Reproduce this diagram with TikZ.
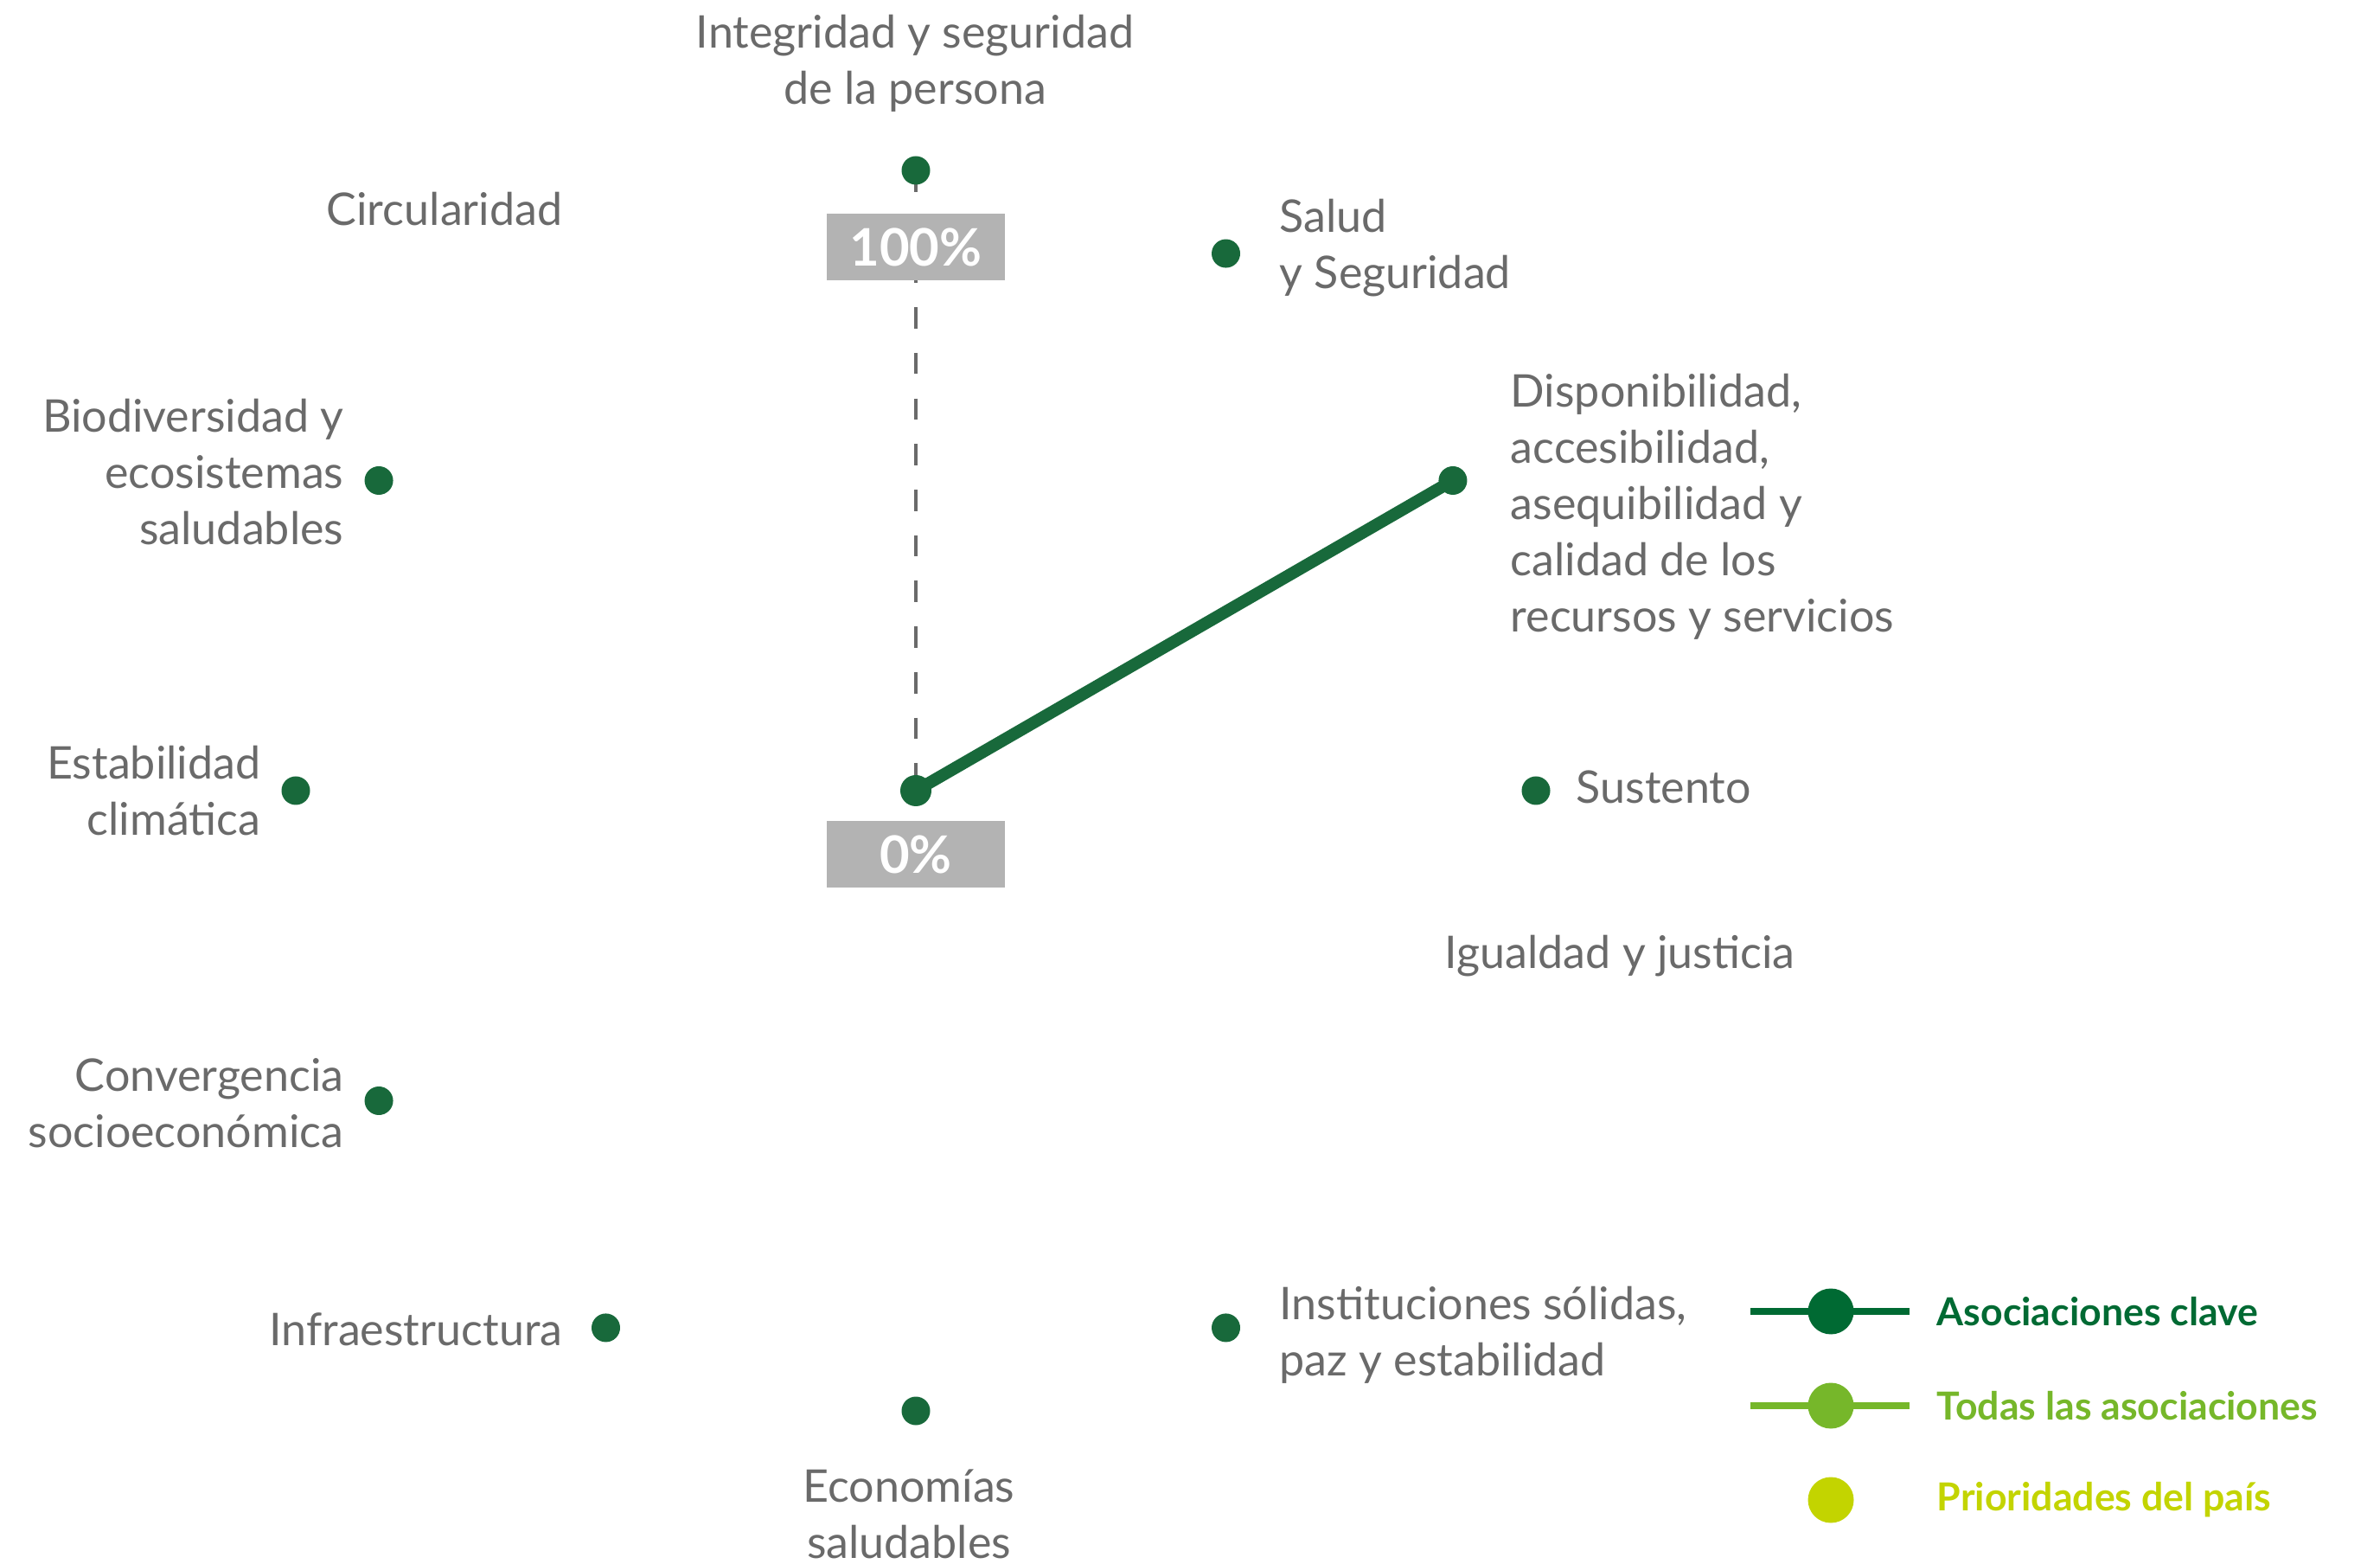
\documentclass[tikz,border=0pt]{standalone}
\usepackage{fontspec}
\setmainfont{Lato}
\usetikzlibrary{positioning, calc}
\definecolor{colDot}{HTML}{18693B}
\definecolor{colKey}{HTML}{006A33}
\definecolor{colAll}{HTML}{76B72A}
\definecolor{colPri}{HTML}{C3D400}
\definecolor{colTxt}{HTML}{6A6A6A}
\definecolor{colBox}{HTML}{B3B3B3}

\begin{document}
\begin{tikzpicture}[
    every node/.style={font=\fontsize{14.8}{18.5}\selectfont},
    lbl/.style={text=colTxt, inner sep=0pt},
    dot/.style={circle, fill=colDot, inner sep=0pt, minimum size=3.3mm},
    pct/.style={fill=colBox, text=white, font=\fontsize{17}{20}\selectfont\bfseries,
        minimum width=2.06cm, minimum height=0.77cm, inner sep=0pt},
    axisline/.style={colTxt, line width=0.9pt, dash pattern=on 7pt off 8pt},
    keyline/.style={colDot, line width=4pt, line cap=round},
    legtxt/.style={font=\fontsize{12.7}{15}\selectfont\bfseries, anchor=west, inner sep=0pt}
]
    \useasboundingbox (0,0) rectangle (27.52,18.07);

    % Centro y ejes
    \coordinate (c) at (10.59, 8.93);
    \coordinate (cir) at ([shift={(120:7.17)}]c);
    \coordinate (igu) at ([shift={(-30:7.17)}]c);

    % Eje de referencia 0% - 100%
    \draw[axisline] ([shift={(90:7.17)}]c) -- (c);
    \node[pct] (p100) at (10.59, 15.21) {100\%};
    \node[pct] (p0) at (10.59, 8.195) {0\%};

    % Asociacion clave
    \draw[keyline] (c) -- ([shift={(30:7.17)}]c);

    % Puntos de cada dimension
    \foreach \a/\n in {90/int, 60/sal, 30/dis, 0/sus, -60/ins, -90/eco, -120/inf, -150/con, 180/est, 150/bio} {
        \node[dot] (\n) at ([shift={(\a:7.17)}]c) {};
    }
    \node[dot, minimum size=3.6mm] (c0) at (c) {};

    % Etiquetas
    \node[lbl, align=center] (intl) at (10.58, 17.34) {Integridad y seguridad\\de la persona};
    \node[lbl, anchor=east] (cirl) at (6.51, 15.65) {Circularidad};
    \node[lbl, anchor=west, align=left] (sall) at (14.79, 15.20) {Salud\\y Seguridad};
    \node[lbl, anchor=west, align=left] (disl) at (17.46, 12.21) {Disponibilidad,\\accesibilidad,\\asequibilidad y\\calidad de los\\recursos y servicios};
    \node[lbl, anchor=west] (susl) at (18.22, 8.97) {Sustento};
    \node[lbl] (igul) at (18.73, 7.02) {Igualdad y justicia};
    \node[lbl, anchor=west, align=left] (insl) at (14.79, 2.64) {Instituciones sólidas,\\paz y estabilidad};
    \node[lbl, align=center] (ecol) at (10.51, 0.57) {Economías\\saludables};
    \node[lbl, anchor=east] (infl) at (6.51, 2.70) {Infraestructura};
    \node[lbl, anchor=east, align=right] (conl) at (3.98, 5.32) {Convergencia\\socioeconómica};
    \node[lbl, anchor=east, align=right] (estl) at (3.02, 8.93) {Estabilidad\\climática};
    \node[lbl, anchor=east, align=right] (biol) at (3.98, 12.61) {Biodiversidad y\\ecosistemas\\saludables};

    % Leyenda
    \foreach \y/\col/\t/\n in {2.91/colKey/Asociaciones clave/lk, 1.82/colAll/Todas las asociaciones/la} {
        \coordinate (\n a) at (20.24, \y);
        \coordinate (\n b) at (22.08, \y);
        \draw[\col, line width=2.5pt] (\n a) -- (\n b);
        \node[circle, fill=\col, inner sep=0pt, minimum size=5.3mm] (\n) at (21.17, \y) {};
        \node[legtxt, text=\col] (\n t) at (22.39, \y) {\t};
    }
    \node[circle, fill=colPri, inner sep=0pt, minimum size=5.3mm] (lp) at (21.17, 0.73) {};
    \node[legtxt, text=colPri] (lpt) at (22.39, 0.73) {Prioridades del país};
\end{tikzpicture}
\end{document}
